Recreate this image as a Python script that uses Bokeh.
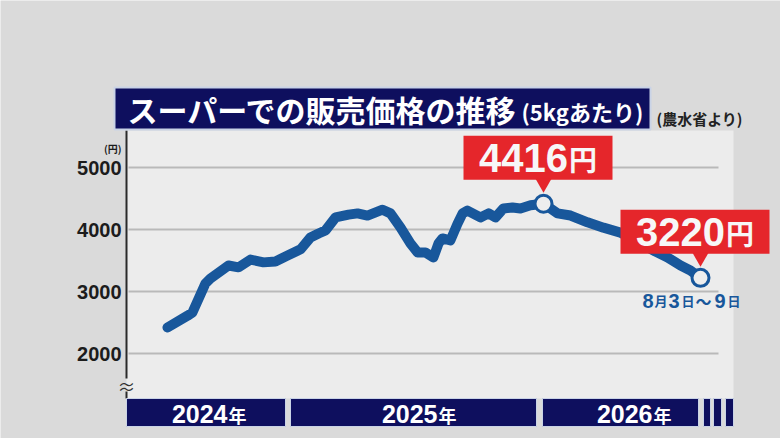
from bokeh.plotting import figure
from bokeh.models import Range1d, ColumnDataSource
from bokeh.core.properties import value
from bokeh.embed import file_html
from bokeh.resources import INLINE

# ---------------- data ----------------
months = [6.25, 7.21, 7.44, 8.06, 8.30, 9.16, 9.64, 10.21, 10.83, 11.40,
          11.98, 12.60, 13.07, 13.46, 13.79, 14.27, 14.89, 15.32, 15.79, 16.51,
          16.89, 17.37, 17.84, 18.18, 18.56, 18.94, 19.18, 19.37, 19.75, 20.09,
          20.33, 20.56, 21.18, 21.57, 21.90, 22.28, 22.71, 23.09, 23.57, 24.19,
          24.86, 25.48, 26.29, 27.05, 27.86, 28.82, 29.53, 30.11, 30.73, 31.20,
          31.68]
prices = [2420, 2610, 2660, 3130, 3210, 3420, 3390, 3515, 3470, 3485,
          3580, 3680, 3870, 3935, 3985, 4195, 4240, 4260, 4225, 4320,
          4260, 4030, 3775, 3630, 3630, 3550, 3775, 3855, 3825, 4095,
          4260, 4305, 4195, 4260, 4195, 4340, 4355, 4340, 4390, 4416,
          4260, 4225, 4115, 4030, 3950, 3775, 3645, 3550, 3420, 3340,
          3220]
y_ticks = [2000, 3000, 4000, 5000]
year_labels = ["2024", "2025", "2026"]
title_main = "スーパーでの販売価格の推移"
title_sub = "(5kgあたり)"
source_note = "(農水省より)"
unit_label = "(円)"
last_date_parts = ["8", "月", "3", "日", "～", "9", "日"]

# ---------------- pixel <-> data helpers (page coordinates) ----------------
def px_x(X):
    return 12 + (X - 287.5) / 20.96

def px_y(Y):
    return 2000 + (353 - Y) * 1000 / 62

def to_px_x(m):
    return 287.5 + (m - 12) * 20.96

def to_px_y(v):
    return 353 - (v - 2000) * 0.062

NAVY = "#0e0f5e"
BLUE = "#18579b"
RED = "#e5262b"
JP = value("Noto Sans CJK JP")
NUM = value("Liberation Sans")

W, H = 780, 438
p = figure(width=W, height=H, output_backend="svg", toolbar_location=None,
           x_range=Range1d(px_x(0), px_x(W)), y_range=Range1d(px_y(H), px_y(0)),
           x_axis_type=None, y_axis_type=None, min_border=0)
p.outline_line_color = None
p.background_fill_color = "#dadada"
p.border_fill_color = "#dadada"
p.grid.visible = False

# panel
p.quad(left=[px_x(126)], right=[px_x(733)], top=[px_y(130)], bottom=[px_y(398)],
       fill_color="#ececec", line_color=None)

# gridlines
p.segment(x0=[px_x(128)] * len(y_ticks), x1=[px_x(718)] * len(y_ticks),
          y0=y_ticks, y1=y_ticks, line_color="#b9b9b9", line_width=2)

# y axis line with break
p.segment(x0=[px_x(126), px_x(126)], x1=[px_x(126), px_x(126)],
          y0=[px_y(130), px_y(391)], y1=[px_y(378), px_y(398)],
          line_color="#2a2a2a", line_width=2)
p.text(x=[px_x(126)], y=[px_y(385)], text=["≈"], text_font=JP,
       text_font_size="18px", text_align="center", text_baseline="middle",
       text_color="#333333")

# tick labels
p.text(x=[px_x(121)] * len(y_ticks), y=y_ticks, text=[str(t) for t in y_ticks],
       text_font=NUM, text_font_style="bold", text_font_size="20px",
       text_align="right", text_baseline="middle", text_color="#1c1c1c")
p.text(x=[px_x(121)], y=[px_y(148)], text=[unit_label], text_font=JP,
       text_font_style="bold", text_font_size="10px", text_align="right",
       text_baseline="middle", text_color="#1c1c1c")

# title box
p.quad(left=[px_x(114)], right=[px_x(650)], top=[px_y(87)], bottom=[px_y(129)],
       fill_color=NAVY, line_color="#c9d3e6", line_width=2)
p.text(x=[px_x(127)], y=[px_y(108)], text=[title_main], text_font=JP,
       text_font_style="bold", text_font_size="30px", text_align="left",
       text_baseline="middle", text_color="white")
p.text(x=[px_x(521)], y=[px_y(110)], text=[title_sub], text_font=JP,
       text_font_style="bold", text_font_size="22px", text_align="left",
       text_baseline="middle", text_color="white")
p.text(x=[px_x(656)], y=[px_y(118)], text=[source_note], text_font=JP,
       text_font_style="bold", text_font_size="15px", text_align="left",
       text_baseline="middle", text_color="#222222")

# bottom year bar
seg_l = [126, 290, 542, 703, 713, 725]
seg_r = [285, 536, 698, 710, 721, 733]
p.quad(left=[px_x(v) for v in seg_l], right=[px_x(v) for v in seg_r],
       top=[px_y(398)] * len(seg_l), bottom=[px_y(426)] * len(seg_l),
       fill_color=NAVY, line_color="#c9d3e6", line_width=1)
digit_end = [227, 437, 652]
p.text(x=[px_x(v) for v in digit_end], y=[px_y(413)] * 3, text=year_labels,
       text_font=NUM, text_font_style="bold", text_font_size="25px",
       text_align="right", text_baseline="middle", text_color="white")
p.text(x=[px_x(v + 1) for v in digit_end], y=[px_y(414)] * 3, text=["年"] * 3,
       text_font=JP, text_font_style="bold", text_font_size="18px",
       text_align="left", text_baseline="middle", text_color="white")

# price line
p.line(months, prices, line_color=BLUE, line_width=10,
       line_join="round", line_cap="round")

# callouts
i_peak = prices.index(max(prices))
i_last = len(prices) - 1
for i in (i_peak, i_last):
    cx, cy = to_px_x(months[i]), to_px_y(prices[i])
    p.quad(left=[px_x(cx - 80)], right=[px_x(cx + 69)], top=[px_y(cy - 68)],
           bottom=[px_y(cy - 24)], fill_color=RED, line_color=None)
    p.patch(x=[px_x(cx - 8), px_x(cx + 8), px_x(cx)],
            y=[px_y(cy - 25), px_y(cy - 25), px_y(cy - 11)],
            fill_color=RED, line_color=None)
    bc = cx - 5.5
    p.text(x=[px_x(bc + 30)], y=[px_y(cy - 46)], text=[str(prices[i])],
           text_font=NUM, text_font_style="bold", text_font_size="40px",
           text_align="right", text_baseline="middle", text_color="#f7f7f7")
    p.text(x=[px_x(bc + 31)], y=[px_y(cy - 45)], text=["円"],
           text_font=JP, text_font_style="bold", text_font_size="28px",
           text_align="left", text_baseline="middle", text_color="#f7f7f7")

p.scatter([months[i_peak], months[i_last]], [prices[i_peak], prices[i_last]],
          marker="circle", size=17, fill_color="#eeeeee", line_color=BLUE,
          line_width=3)

# last date label
lx = to_px_x(months[i_last])
ly = to_px_y(prices[i_last])
offs = [-58, -46, -32, -19, -5, 14, 27]
sizes = ["20px", "13px", "20px", "13px", "16px", "20px", "13px"]
fonts = ["Liberation Sans", "Noto Sans CJK JP", "Liberation Sans", "Noto Sans CJK JP",
         "Noto Sans CJK JP", "Liberation Sans", "Noto Sans CJK JP"]
src = ColumnDataSource(dict(x=[px_x(lx + o) for o in offs],
                            y=[px_y(ly + 23)] * len(offs),
                            t=last_date_parts, s=sizes, f=fonts))
p.text(x="x", y="y", text="t", text_font_size="s", text_font="f", source=src,
       text_font_style="bold", text_align="left", text_baseline="middle",
       text_color=BLUE)

html = file_html(p, INLINE)
html = html.replace("<body>", '<body style="margin:0;background-color:#dadada;">', 1)
open("out.html", "w").write(html)
